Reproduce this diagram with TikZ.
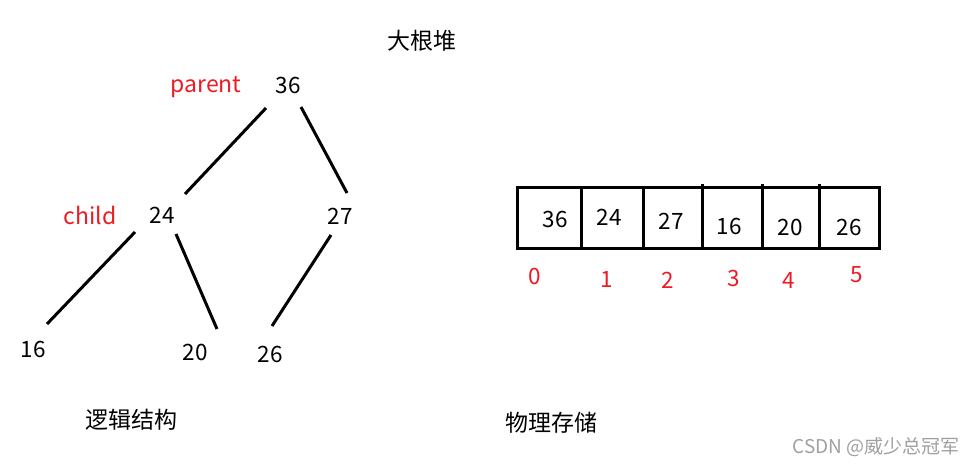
\documentclass[tikz,border=0pt]{standalone}
\usepackage{fontspec}
\setmainfont{Noto Sans CJK SC}
\begin{document}
\begin{tikzpicture}[x=1pt,y=-1pt,
  lbl/.style={inner sep=0pt,font=\fontsize{23}{26}\selectfont},
  numlbl/.style={inner sep=0pt,font=\fontsize{22.5}{26}\selectfont},
  redlbl/.style={lbl,text={rgb,255:red,237;green,28;blue,36}},
  rednum/.style={numlbl,text={rgb,255:red,237;green,28;blue,36}},
  edge/.style={line width=3pt,black},
  cell/.style={line width=3pt,black},
  wm/.style={inner sep=0pt,font=\fontsize{19}{22}\selectfont,text={rgb,255:red,160;green,160;blue,160}}]
\useasboundingbox (0,0) rectangle (976,466);
\fill[white] (0,0) rectangle (976,466);
% titles
\node[lbl] (title) at (422,41) {大根堆};
\node[lbl] (logic) at (131,420) {逻辑结构};
\node[lbl] (phys) at (551,423) {物理存储};
\node[wm] (wmk) at (876,447) {CSDN @威少总冠军};
% tree
\node[numlbl] (n36) at (288,85) {36};
\node[redlbl] (par) at (206,87) {parent};
\node[numlbl] (n24) at (162,215) {24};
\node[redlbl] (chi) at (90,215) {child};
\node[numlbl] (n27) at (340,216) {27};
\node[numlbl] (n16) at (33,349) {16};
\node[numlbl] (n20) at (195,352) {20};
\node[numlbl] (n26) at (270,354) {26};
\coordinate (a1) at (266,108); \coordinate (b1) at (185,194);
\coordinate (a2) at (301,107); \coordinate (b2) at (347,193);
\coordinate (a3) at (135,232); \coordinate (b3) at (47,324);
\coordinate (a4) at (176,234); \coordinate (b4) at (217,329);
\coordinate (a5) at (331,235); \coordinate (b5) at (272,326);
\draw[edge] (a1) -- (b1);
\draw[edge] (a2) -- (b2);
\draw[edge] (a3) -- (b3);
\draw[edge] (a4) -- (b4);
\draw[edge] (a5) -- (b5);
% array
\draw[cell] (517,187) rectangle (879,248);
\draw[cell] (581,187) -- (581,248);
\draw[cell] (643,187) -- (643,248);
\draw[cell] (702,184) -- (702,248);
\draw[cell] (762,184) -- (762,248);
\draw[cell] (819,184) -- (819,248);
\node[numlbl] (v0) at (555,219) {36};
\node[numlbl] (v1) at (609,217) {24};
\node[numlbl] (v2) at (671,221) {27};
\node[numlbl] (v3) at (729,226) {16};
\node[numlbl] (v4) at (790,227) {20};
\node[numlbl] (v5) at (849,227) {26};
\node[rednum] (i0) at (535,276) {0};
\node[rednum] (i1) at (607,279) {1};
\node[rednum] (i2) at (668,280) {2};
\node[rednum] (i3) at (734,278) {3};
\node[rednum] (i4) at (789,280) {4};
\node[rednum] (i5) at (857,275) {5};
\end{tikzpicture}
\end{document}
